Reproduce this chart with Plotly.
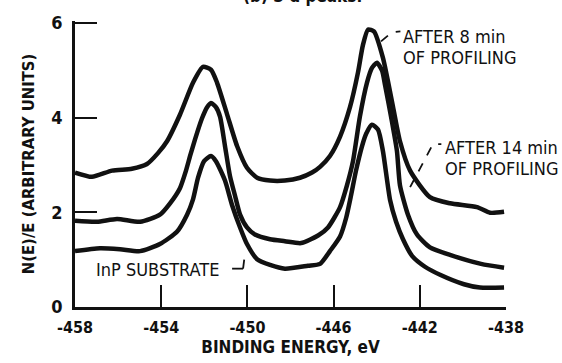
import plotly.graph_objects as go

# ---- data ----
x_8min = [-458.00, -457.21, -456.28, -455.36, -454.66, -454.15, -453.73, -453.13, -452.52, -452.06,
          -451.69, -451.41, -450.95, -450.48, -450.02, -449.55, -448.95, -448.26, -447.56, -447.00,
          -446.63, -446.17, -445.70, -445.24, -444.87, -444.64, -444.40, -444.13, -443.71, -443.24,
          -442.92, -442.45, -441.53, -440.60, -439.35, -438.74, -438.09]
y_8min = [2.84, 2.75, 2.88, 2.92, 3.02, 3.25, 3.50, 4.06, 4.74, 5.07,
          5.01, 4.74, 4.08, 3.40, 2.94, 2.73, 2.67, 2.67, 2.73, 2.84,
          2.96, 3.19, 3.60, 4.22, 4.95, 5.53, 5.86, 5.82, 5.26, 4.22,
          3.50, 2.88, 2.32, 2.19, 2.11, 1.99, 2.01]

x_14min = [-458.00, -456.98, -456.05, -454.98, -454.06, -453.59, -453.13, -452.85, -452.66, -452.43,
           -452.11, -451.87, -451.69, -451.46, -451.27, -451.04, -450.81, -450.58, -450.34, -450.02,
           -449.65, -448.95, -448.26, -447.51, -446.72, -446.26, -445.70, -445.38, -445.10, -444.78,
           -444.45, -444.22, -443.99, -443.75, -443.61, -443.29, -443.06, -442.92, -442.55, -442.13,
           -441.53, -440.60, -439.16, -438.09]
y_14min = [1.82, 1.80, 1.86, 1.80, 1.95, 2.19, 2.51, 2.88, 3.19, 3.54,
           3.98, 4.22, 4.31, 4.22, 4.02, 3.40, 2.77, 2.36, 1.95, 1.68,
           1.53, 1.43, 1.39, 1.35, 1.51, 1.68, 2.11, 2.57, 3.08, 4.02,
           4.74, 5.05, 5.16, 4.99, 4.68, 3.91, 3.29, 2.57, 1.95, 1.53,
           1.26, 1.10, 0.91, 0.83]

x_sub = [-458.00, -456.84, -455.91, -454.98, -454.06, -453.27, -452.80, -452.52, -452.29, -452.01,
         -451.69, -451.46, -451.04, -450.71, -450.34, -450.02, -449.55, -448.95, -448.26, -447.19,
         -446.63, -446.17, -445.70, -445.42, -445.19, -444.96, -444.68, -444.49, -444.22, -443.94,
         -443.71, -443.38, -443.10, -442.78, -442.36, -441.76, -441.06, -439.95, -439.21, -438.09]
y_sub = [1.18, 1.24, 1.22, 1.18, 1.33, 1.59, 1.95, 2.28, 2.73, 3.08,
         3.19, 3.08, 2.67, 2.15, 1.68, 1.33, 1.01, 0.89, 0.81, 0.87,
         0.91, 1.18, 1.49, 1.88, 2.36, 2.88, 3.40, 3.66, 3.85, 3.75,
         3.29, 2.26, 1.80, 1.43, 1.08, 0.85, 0.68, 0.48, 0.41, 0.41]

x_ticks = [-458, -454, -450, -446, -442, -438]
x_tick_labels = ["-458", "-454", "-450", "-446", "-442", "-438"]
y_ticks = [0, 2, 4, 6]
y_tick_labels = ["0", "2", "4", "6"]

FONT = "DejaVu Sans Condensed"
BLACK = "#111111"

fig = go.Figure()
for xs, ys in [(x_8min, y_8min), (x_14min, y_14min), (x_sub, y_sub)]:
    fig.add_trace(go.Scatter(x=xs, y=ys, mode="lines",
                             line=dict(color=BLACK, width=4.5, shape="spline", smoothing=0.6),
                             showlegend=False, hoverinfo="skip"))

ann_font = dict(family=FONT, size=18, color=BLACK)
annotations = [
    dict(x=-442.87, y=5.71, text="AFTER 8 min", xanchor="left", yanchor="middle", showarrow=False, font=ann_font),
    dict(x=-442.87, y=5.26, text="OF PROFILING", xanchor="left", yanchor="middle", showarrow=False, font=ann_font),
    dict(x=-440.92, y=3.37, text="AFTER 14 min", xanchor="left", yanchor="middle", showarrow=False, font=ann_font),
    dict(x=-440.92, y=2.92, text="OF PROFILING", xanchor="left", yanchor="middle", showarrow=False, font=ann_font),
    dict(x=-457.10, y=0.79, text="InP SUBSTRATE", xanchor="left", yanchor="middle", showarrow=False, font=ann_font),
    dict(x=0.527, y=1.0, xref="paper", yref="paper", yshift=13, text="(b) 3 d peaks.", xanchor="center",
         yanchor="bottom", showarrow=False, font=dict(family=FONT, size=17, color=BLACK, weight="bold")),
]

dash = dict(color=BLACK, width=1.8, dash="dash")
shapes = [
    dict(type="path", xref="x", yref="y", path="M -443.80,5.61 L -443.30,5.80 L -442.90,5.82", line=dash),
    dict(type="path", xref="x", yref="y", path="M -442.45,2.53 L -441.39,3.44 L -441.00,3.44", line=dash),
    dict(type="line", xref="x", yref="y", x0=-450.71, y0=0.81, x1=-450.20, y1=0.81, line=dict(color=BLACK, width=1.8)),
    dict(type="line", xref="x", yref="y", x0=-450.20, y0=0.81, x1=-450.11, y1=1.14, line=dash),
]

fig.update_layout(
    width=562, height=363,
    margin=dict(l=75, r=56, t=19, b=54),
    paper_bgcolor="white", plot_bgcolor="white",
    annotations=annotations, shapes=shapes,
    xaxis=dict(range=[-458, -438], tickvals=x_ticks, ticktext=x_tick_labels, ticks="inside", ticklen=22,
               tickwidth=2, tickcolor=BLACK, showline=True, linecolor=BLACK, linewidth=2.5, showgrid=False,
               zeroline=False, ticklabelstandoff=4,
               tickfont=dict(family=FONT, size=16, color=BLACK, weight="bold"),
               title=dict(text="BINDING ENERGY, eV", font=dict(family=FONT, size=17, color=BLACK, weight="bold"),
                          standoff=2)),
    yaxis=dict(range=[0, 6.04], tickvals=y_ticks, ticktext=y_tick_labels, ticks="inside", ticklen=22,
               tickwidth=2, tickcolor=BLACK, showline=True, linecolor=BLACK, linewidth=2.5, showgrid=False,
               zeroline=False, ticklabelstandoff=6,
               tickfont=dict(family=FONT, size=18, color=BLACK, weight="bold"),
               title=dict(text="N(E)/E (ARBITRARY UNITS)", font=dict(family=FONT, size=16.5, color=BLACK, weight="bold"),
                          standoff=13)),
)

fig.write_html("out.html")
